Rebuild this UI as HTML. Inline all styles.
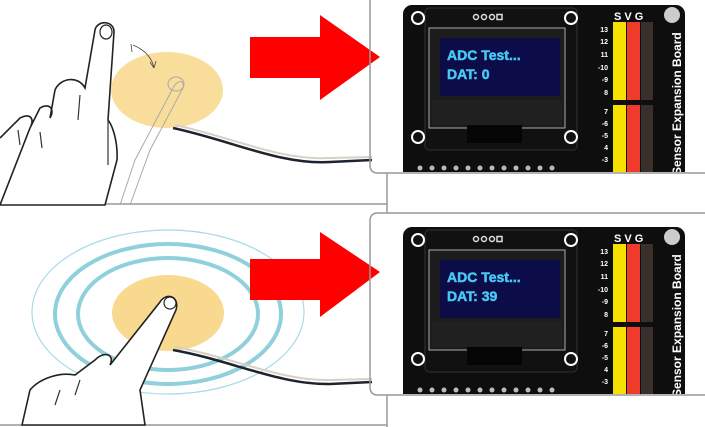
<!DOCTYPE html>
<html><head><meta charset="utf-8"><style>
html,body{margin:0;padding:0;background:#fff;width:705px;height:427px;overflow:hidden}
svg{display:block}
text{font-family:"Liberation Sans",sans-serif}
.scr{font-size:14px;font-weight:bold;fill:#48c9f5;stroke:#48c9f5;stroke-width:0.5}
</style></head><body>
<svg width="705" height="427" viewBox="0 0 705 427" xmlns="http://www.w3.org/2000/svg">
<rect width="705" height="427" fill="#fff"/>
<line x1="0" y1="204" x2="387" y2="204" stroke="#999" stroke-width="1.5"/>
<line x1="387" y1="173" x2="387" y2="213" stroke="#999" stroke-width="1.5"/>
<line x1="387" y1="395" x2="387" y2="427" stroke="#999" stroke-width="1.5"/>
<line x1="0" y1="425" x2="387" y2="425" stroke="#999" stroke-width="1.5"/>

<ellipse cx="167" cy="90" rx="56" ry="38" fill="#f8d98f" opacity="0.9"/>
<path d="M173 128 C230 140 280 165 330 162 L372 160" fill="none" stroke="#1d2430" stroke-width="2.5"/>
<path d="M175 125 C232 137 280 161 330 158 L372 157" fill="none" stroke="#d8d0c4" stroke-width="2"/>
<path d="M133 45 C145 50 152 58 154 68 M131 44 l1 8 M154 68 l-4 -6 M154 68 l2 -7" fill="none" stroke="#444" stroke-width="0.8"/>
<path d="M120 205 L135 160 L172 90 C176 80 185 78 183 88 L150 150 L130 205" fill="none" stroke="#aaa" stroke-width="1"/>
<ellipse cx="176" cy="84" rx="8" ry="7" fill="none" stroke="#aaa" stroke-width="1"/>
<path d="M0 138 L20 118 C30 113 35 118 30 128 M30 128 L40 108 C50 102 55 110 50 118 L55 90 C60 78 78 75 85 88 L95 30 C97 20 114 20 114 32 L108 120 C112 125 118 140 117 160 L105 205 L0 205 Z" fill="#fff" stroke="#222" stroke-width="1.6"/>
<ellipse cx="106" cy="32" rx="6" ry="7" fill="none" stroke="#222" stroke-width="1.2"/>
<path d="M20 145 L18 130 M42 148 L40 132 M78 120 L80 95 M108 120 L108 165" fill="none" stroke="#333" stroke-width="1.2"/>

<ellipse cx="168" cy="312" rx="136" ry="82" fill="none" stroke="#a7dbe4" stroke-width="1.2"/>
<ellipse cx="168" cy="314" rx="113" ry="70" fill="none" stroke="#8fd0dc" stroke-width="4"/>
<ellipse cx="168" cy="314" rx="90" ry="56" fill="none" stroke="#8fd0dc" stroke-width="4"/>
<ellipse cx="168" cy="313" rx="56" ry="38" fill="#f8d98f"/>
<path d="M173 350 C230 360 280 385 330 384 L372 382" fill="none" stroke="#1d2430" stroke-width="2.5"/>
<path d="M175 347 C232 357 280 381 330 380 L372 379" fill="none" stroke="#d8d0c4" stroke-width="2"/>
<path d="M22 425 L30 390 C40 378 60 372 75 375 L95 360 C105 350 115 355 110 365 L160 302 C166 292 180 296 176 310 L140 390 L145 425 Z" fill="#fff" stroke="#222" stroke-width="1.6"/>
<ellipse cx="170" cy="303" rx="6" ry="6" fill="none" stroke="#222" stroke-width="1.2"/>
<path d="M55 405 L60 390 M75 395 L80 380" fill="none" stroke="#333" stroke-width="1.2"/>

<polygon points="250,37 320,37 320,15 380,57 320,100 320,78 250,78" fill="#f00"/>
<polygon points="250,259 320,259 320,232 380,272 320,317 320,300 250,300" fill="#f00"/>

<path d="M370 0 L370 165 Q370 173 378 173 L705 173" fill="none" stroke="#999" stroke-width="1.5"/>
<path d="M705 213 L378 213 Q370 213 370 221 L370 387 Q370 395 378 395 L705 395" fill="none" stroke="#999" stroke-width="1.5"/>

<defs>
<clipPath id="c1"><rect x="371" y="0" width="334" height="172"/></clipPath>
<clipPath id="c2"><rect x="371" y="214" width="334" height="180"/></clipPath>
</defs>

<g clip-path="url(#c1)">
<rect x="403" y="5" width="282" height="185" rx="9" fill="#0e0e0e"/>
<rect x="425" y="8" width="152" height="142" rx="4" fill="#111" stroke="#333"/>
<rect x="429" y="28" width="136" height="100" fill="#1c1c1c" stroke="#aaa"/>
<rect x="440" y="38" width="120" height="58" fill="#0c0c48"/>
<rect x="432" y="100" width="130" height="25" fill="#202020"/>
<rect x="467" y="125" width="55" height="18" fill="#050505"/>
<circle cx="418" cy="18" r="6" fill="#111" stroke="#fff" stroke-width="2"/>
<circle cx="571" cy="18" r="6" fill="#111" stroke="#fff" stroke-width="2"/>
<circle cx="418" cy="137" r="6" fill="#111" stroke="#fff" stroke-width="2"/>
<circle cx="571" cy="137" r="6" fill="#111" stroke="#fff" stroke-width="2"/>
<circle cx="672" cy="15" r="8" fill="#ccc"/>
<g fill="none" stroke="#ddd" stroke-width="1.5"><circle cx="476" cy="17" r="2.5"/><circle cx="484" cy="17" r="2.5"/><circle cx="492" cy="17" r="2.5"/><rect x="497" y="14.5" width="5" height="5"/></g>
<text x="447" y="60" class="scr">ADC Test...</text>
<text x="447" y="79" class="scr">DAT: 0</text>
<text x="614" y="20" font-size="11" font-weight="bold" fill="#fff">S V G</text>
<rect x="613" y="22" width="13" height="78" fill="#f5e000"/><rect x="627" y="22" width="13" height="78" fill="#ee3b2b"/><rect x="641" y="22" width="12" height="78" fill="#3a302b"/>
<rect x="613" y="105" width="13" height="70" fill="#f5e000"/><rect x="627" y="105" width="13" height="70" fill="#ee3b2b"/><rect x="641" y="105" width="12" height="70" fill="#3a302b"/>
<g font-size="7" fill="#fff" font-weight="bold" text-anchor="end">
<text x="608" y="32">13</text><text x="608" y="44">12</text><text x="608" y="57">11</text><text x="608" y="70">-10</text><text x="608" y="82">-9</text><text x="608" y="95">8</text>
<text x="608" y="114">7</text><text x="608" y="126">-6</text><text x="608" y="138">-5</text><text x="608" y="150">4</text><text x="608" y="162">-3</text></g>
<text transform="translate(681,175) rotate(-90)" font-size="12" font-weight="bold" fill="#fff">Sensor Expansion Board</text>
<g fill="#bbb"><circle cx="420" cy="168" r="2.5"/><circle cx="432" cy="168" r="2.5"/><circle cx="444" cy="168" r="2.5"/><circle cx="456" cy="168" r="2.5"/><circle cx="468" cy="168" r="2.5"/><circle cx="480" cy="168" r="2.5"/><circle cx="492" cy="168" r="2.5"/><circle cx="504" cy="168" r="2.5"/><circle cx="516" cy="168" r="2.5"/><circle cx="528" cy="168" r="2.5"/><circle cx="540" cy="168" r="2.5"/><circle cx="552" cy="168" r="2.5"/></g>
</g>

<g clip-path="url(#c2)">
<rect x="403" y="227" width="282" height="185" rx="9" fill="#0e0e0e"/>
<rect x="425" y="230" width="152" height="142" rx="4" fill="#111" stroke="#333"/>
<rect x="429" y="250" width="136" height="100" fill="#1c1c1c" stroke="#aaa"/>
<rect x="440" y="260" width="120" height="58" fill="#0c0c48"/>
<rect x="432" y="322" width="130" height="25" fill="#202020"/>
<rect x="467" y="347" width="55" height="18" fill="#050505"/>
<circle cx="418" cy="240" r="6" fill="#111" stroke="#fff" stroke-width="2"/>
<circle cx="571" cy="240" r="6" fill="#111" stroke="#fff" stroke-width="2"/>
<circle cx="418" cy="359" r="6" fill="#111" stroke="#fff" stroke-width="2"/>
<circle cx="571" cy="359" r="6" fill="#111" stroke="#fff" stroke-width="2"/>
<circle cx="672" cy="237" r="8" fill="#ccc"/>
<g fill="none" stroke="#ddd" stroke-width="1.5"><circle cx="476" cy="239" r="2.5"/><circle cx="484" cy="239" r="2.5"/><circle cx="492" cy="239" r="2.5"/><rect x="497" y="236.5" width="5" height="5"/></g>
<text x="447" y="282" class="scr">ADC Test...</text>
<text x="447" y="301" class="scr">DAT: 39</text>
<text x="614" y="242" font-size="11" font-weight="bold" fill="#fff">S V G</text>
<rect x="613" y="244" width="13" height="78" fill="#f5e000"/><rect x="627" y="244" width="13" height="78" fill="#ee3b2b"/><rect x="641" y="244" width="12" height="78" fill="#3a302b"/>
<rect x="613" y="327" width="13" height="70" fill="#f5e000"/><rect x="627" y="327" width="13" height="70" fill="#ee3b2b"/><rect x="641" y="327" width="12" height="70" fill="#3a302b"/>
<g font-size="7" fill="#fff" font-weight="bold" text-anchor="end">
<text x="608" y="254">13</text><text x="608" y="266">12</text><text x="608" y="279">11</text><text x="608" y="292">-10</text><text x="608" y="304">-9</text><text x="608" y="317">8</text>
<text x="608" y="336">7</text><text x="608" y="348">-6</text><text x="608" y="360">-5</text><text x="608" y="372">4</text><text x="608" y="384">-3</text></g>
<text transform="translate(681,397) rotate(-90)" font-size="12" font-weight="bold" fill="#fff">Sensor Expansion Board</text>
<g fill="#bbb"><circle cx="420" cy="390" r="2.5"/><circle cx="432" cy="390" r="2.5"/><circle cx="444" cy="390" r="2.5"/><circle cx="456" cy="390" r="2.5"/><circle cx="468" cy="390" r="2.5"/><circle cx="480" cy="390" r="2.5"/><circle cx="492" cy="390" r="2.5"/><circle cx="504" cy="390" r="2.5"/><circle cx="516" cy="390" r="2.5"/><circle cx="528" cy="390" r="2.5"/><circle cx="540" cy="390" r="2.5"/><circle cx="552" cy="390" r="2.5"/></g>
</g>
</svg>
</body></html>
